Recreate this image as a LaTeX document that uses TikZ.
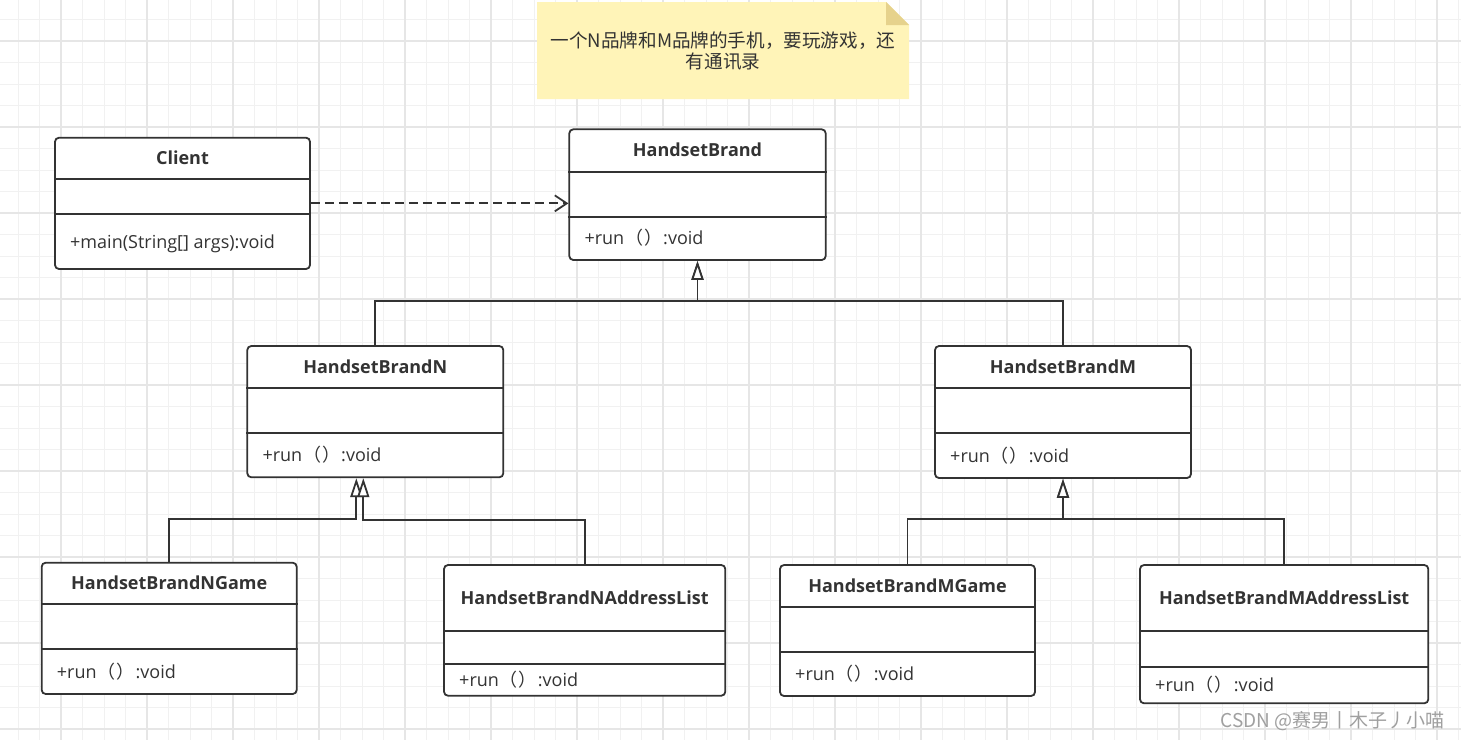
\documentclass[tikz,border=0pt]{standalone}
\usepackage{fontspec}
\setmainfont{Open Sans}
\newfontfamily\cjk{Noto Sans CJK SC}
\usetikzlibrary{arrows.meta}
\definecolor{ink}{RGB}{51,51,51}
\definecolor{gridminor}{RGB}{241,241,241}
\definecolor{gridmajor}{RGB}{230,230,230}
\definecolor{notefill}{RGB}{255,244,184}
\definecolor{notefold}{RGB}{230,210,140}
\definecolor{wmark}{RGB}{160,160,160}
\tikzset{
  classbox/.style={draw=ink, line width=1.8pt, rounded corners=4pt, fill=white, inner sep=0pt},
  divider/.style={draw=ink, line width=1.8pt},
  titletext/.style={font=\fontsize{18}{21}\selectfont\bfseries, text=ink, inner sep=0pt, text height=12.9pt, text depth=0pt},
  optext/.style={font=\fontsize{18}{21}\selectfont, text=ink, inner sep=0pt, anchor=west, text height=12.9pt, text depth=0pt},
  inh/.style={draw=ink, line width=1.8pt, -{Triangle[length=19pt,width=12pt,fill=white]}},
  dep/.style={draw=ink, line width=1.8pt, dash pattern=on 9pt off 5pt, -{Straight Barb[length=12pt,width=16pt]}},
}
\newcommand{\runop}{+run\hspace{1pt}{\cjk （}\hspace{1pt}{\cjk ）}\hspace{1pt}:void}
% #1 name, #2 left, #3 top, #4 right, #5 bottom, #6 divider 1, #7 divider 2, #8 title, #9 operation
\newcommand{\umlclass}[9]{%
  \node[classbox, minimum width={#4-#2}, minimum height={#5-#3}] (#1) at ({(#2+#4)/2},{(#3+#5)/2}) {};
  \draw[divider] (#1.west |- 0,#6) -- (#1.east |- 0,#6);
  \draw[divider] (#1.west |- 0,#7) -- (#1.east |- 0,#7);
  \node[titletext] (#1-title) at ({(#2+#4)/2},{(#3+#6)/2}) {#8};
  \node[optext] (#1-op) at ({#2+15},{(#7+#5)/2}) {#9};
}
\begin{document}
\begin{tikzpicture}[x=1pt,y=-1pt]
\useasboundingbox (0,0) rectangle (1461,740);
\fill[white] (0,0) rectangle (1461,740);
% grid
\foreach \k in {0,...,67} \draw[gridminor, line width=1pt] ({18+21.5*\k},0) -- ({18+21.5*\k},740);
\foreach \k in {0,...,33} \draw[gridminor, line width=1pt] (0,{19.5+21.5*\k}) -- (1461,{19.5+21.5*\k});
\foreach \k in {0,...,16} \draw[gridmajor, line width=1.3pt] ({61+86*\k},0) -- ({61+86*\k},740);
\foreach \k in {0,...,8} \draw[gridmajor, line width=1.3pt] (0,{41+86*\k}) -- (1461,{41+86*\k});
% note
\fill[notefill] (537,2) -- (886,2) -- (909,25) -- (909,99) -- (537,99) -- cycle;
\fill[notefold] (886,2) -- (886,25) -- (909,25) -- cycle;
\node[align=center, font=\cjk\fontsize{18.6}{21}\selectfont, text=ink, inner sep=0pt] (note) at (723,51) {一个N品牌和M品牌的手机，要玩游戏，还\\有通讯录};
% classes
\umlclass{client}{55}{137.7}{310}{269}{179}{214.3}{Client}{+main(String[] args):void}
\umlclass{brand}{569.3}{129.3}{825.7}{260}{171.7}{216.7}{HandsetBrand}{\runop}
\umlclass{hn}{247.3}{346}{503.3}{477.3}{388.3}{433.3}{HandsetBrandN}{\runop}
\umlclass{hm}{935}{346}{1191}{478}{388.3}{433.3}{HandsetBrandM}{\runop}
\umlclass{ngame}{41.7}{562.7}{296.7}{694}{604}{649.3}{HandsetBrandNGame}{\runop}
\umlclass{naddr}{444}{565}{725.3}{695.7}{630.7}{664}{HandsetBrandNAddressList}{\runop}
\umlclass{mgame}{780}{565}{1035}{696}{607}{652}{HandsetBrandMGame}{\runop}
\umlclass{maddr}{1140}{565}{1428.3}{703.3}{630.7}{667.3}{HandsetBrandMAddressList}{\runop}
% connectors
\draw[dep] (client.east) -- (client.east -| brand.west);
\draw[inh] (hn.north) -- ++(0,-44) -| (brand.south);
\draw[inh] (hm.north) -- ++(0,-44) -| (brand.south);
\draw[inh] (ngame.north) -- ++(0,-42.7) -| ([xshift=-19pt]hn.south);
\draw[inh] (naddr.north) -- ++(0,-44) -| ([xshift=-12pt]hn.south);
\draw[inh] (mgame.north) -- ++(0,-45) -| (hm.south);
\draw[inh] (maddr.north) -- ++(0,-45) -| (hm.south);
% watermark
\node[font=\cjk\fontsize{19}{22}\selectfont, text=wmark, anchor=east, inner sep=0pt] (wm) at (1445,721) {CSDN @赛男丨木子丿小喵};
\end{tikzpicture}
\end{document}
